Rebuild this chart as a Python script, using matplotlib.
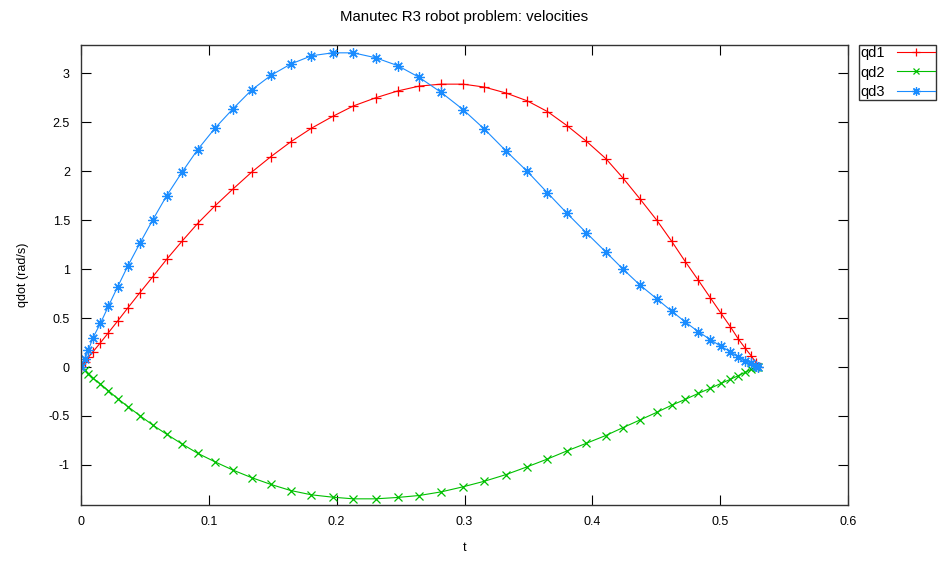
import matplotlib
matplotlib.use("Agg")
import matplotlib.pyplot as plt

t = [0, 0.003, 0.0057, 0.0094, 0.0152, 0.0214, 0.0287, 0.0367, 0.0461, 0.056,
     0.067, 0.079, 0.0912, 0.1048, 0.119, 0.1334, 0.1486, 0.164, 0.1803, 0.1968,
     0.213, 0.2304, 0.2476, 0.2645, 0.2817, 0.2989, 0.3156, 0.3323, 0.349, 0.3649,
     0.3802, 0.3954, 0.4105, 0.424, 0.4373, 0.4504, 0.462, 0.4728, 0.483, 0.4923,
     0.5007, 0.508, 0.5142, 0.5197, 0.5244, 0.528, 0.5295]

qd1 = [0, 0.05, 0.099, 0.156, 0.248, 0.35, 0.47, 0.605, 0.76, 0.92,
       1.10, 1.285, 1.466, 1.646, 1.82, 1.99, 2.15, 2.30, 2.44, 2.56,
       2.667, 2.75, 2.82, 2.87, 2.89, 2.89, 2.86, 2.80, 2.72, 2.61,
       2.466, 2.306, 2.13, 1.93, 1.717, 1.5, 1.286, 1.075, 0.885, 0.707,
       0.548, 0.411, 0.286, 0.19, 0.112, 0.044, 0]

qd2 = [0, -0.03, -0.07, -0.116, -0.173, -0.242, -0.323, -0.405, -0.497, -0.592,
       -0.687, -0.786, -0.881, -0.969, -1.054, -1.13, -1.20, -1.262, -1.306, -1.33,
       -1.347, -1.347, -1.333, -1.313, -1.276, -1.224, -1.167, -1.10, -1.02, -0.94,
       -0.857, -0.779, -0.70, -0.619, -0.541, -0.463, -0.391, -0.33, -0.269, -0.218,
       -0.167, -0.126, -0.088, -0.054, -0.024, -0.003, 0]

qd3 = [0, 0.08, 0.17, 0.30, 0.446, 0.62, 0.82, 1.034, 1.265, 1.5,
       1.75, 1.99, 2.22, 2.44, 2.64, 2.83, 2.98, 3.095, 3.18, 3.21,
       3.21, 3.16, 3.08, 2.96, 2.806, 2.63, 2.43, 2.21, 2.0, 1.78,
       1.57, 1.37, 1.176, 1.0, 0.837, 0.697, 0.571, 0.459, 0.36, 0.28,
       0.21, 0.156, 0.105, 0.064, 0.037, 0.01, 0]

plt.rcParams['font.family'] = ['Liberation Sans', 'DejaVu Sans']
plt.rcParams['font.size'] = 9

fig = plt.figure(figsize=(9.48, 5.62), dpi=100)
ax = fig.add_axes([81 / 948, 57 / 562, 767 / 948, 460 / 562])

ax.plot(t, qd1, color='#ff0000', lw=0.8, marker='+', ms=7, mew=0.9, label='qd1')
ax.plot(t, qd2, color='#00c000', lw=0.8, marker='x', ms=6, mew=0.9, label='qd2')
ax.plot(t, qd3, color='#1a8cff', lw=0.8, marker=(8, 2, 0), ms=7.5, mew=0.9, label='qd3')

ax.set_xlim(0, 0.6)
ax.set_ylim(-1.41, 3.29)
ax.set_xticks([0, 0.1, 0.2, 0.3, 0.4, 0.5, 0.6])
ax.set_xticklabels(['0', '0.1', '0.2', '0.3', '0.4', '0.5', '0.6'])
ax.set_yticks([-1, -0.5, 0, 0.5, 1, 1.5, 2, 2.5, 3])
ax.set_yticklabels(['-1', '-0.5', '0', '0.5', '1', '1.5', '2', '2.5', '3'])
ax.tick_params(direction='in', length=7, width=0.8, top=True, right=True, pad=8)
for s in ax.spines.values():
    s.set_linewidth(1.0)
    s.set_color('#333333')

ax.set_xlabel('t', labelpad=10)
ax.set_ylabel('qdot (rad/s)', labelpad=14)
ax.set_title('Manutec R3 robot problem: velocities', pad=17)

leg = fig.legend(loc='upper left', bbox_to_anchor=(859 / 948, 1 - 45 / 562),
                 markerfirst=False, frameon=True, fancybox=False,
                 borderpad=0.1, labelspacing=0.35, handlelength=2.6,
                 handletextpad=0.8, borderaxespad=0, fontsize=10.5,
                 markerscale=0.8)
leg.get_frame().set_edgecolor('black')
leg.get_frame().set_linewidth(1.0)

fig.savefig('out.png', dpi=100)
